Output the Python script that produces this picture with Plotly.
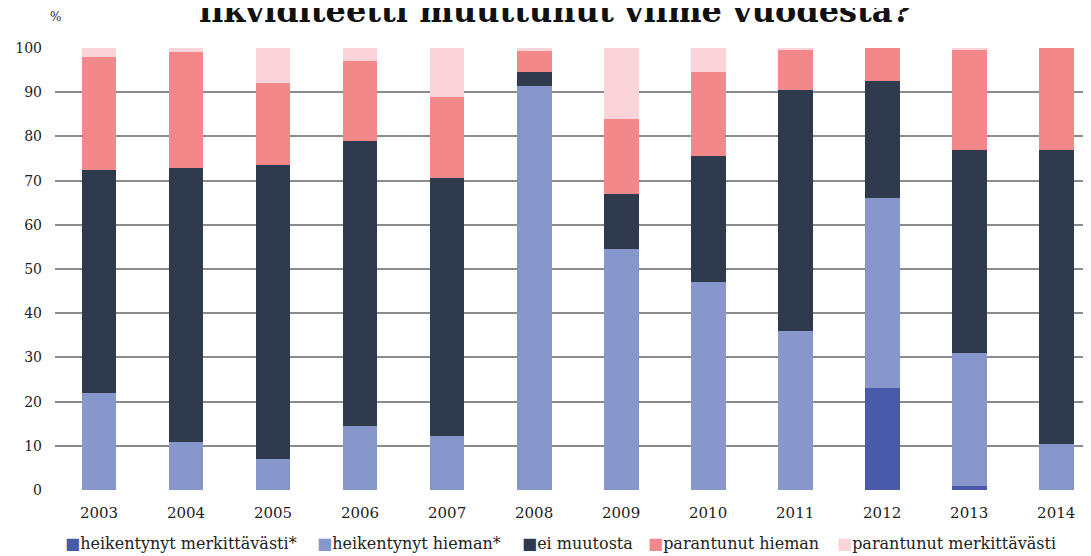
import plotly.graph_objects as go

years = ["2003", "2004", "2005", "2006", "2007", "2008", "2009", "2010", "2011", "2012", "2013", "2014"]
series_names = ["heikentynyt merkittävästi*", "heikentynyt hieman*", "ei muutosta",
                "parantunut hieman", "parantunut merkittävästi"]
heik_merk = [0, 0, 0, 0, 0, 0, 0, 0, 0, 23, 1, 0]
heik_hieman = [22, 10.8, 7, 14.5, 12.3, 91.5, 54.5, 47, 36, 43, 30, 10.5]
ei_muutosta = [50.5, 62, 66.5, 64.5, 58.3, 3, 12.5, 28.5, 54.5, 26.5, 46, 66.5]
par_hieman = [25.5, 26.2, 18.5, 18, 18.4, 4.8, 17, 19, 9, 7.5, 22.5, 23]
par_merk = [2, 1, 8, 3, 11, 0.7, 16, 5.5, 0.5, 0, 0.5, 0]
values = [heik_merk, heik_hieman, ei_muutosta, par_hieman, par_merk]
colors = ["#4a5aab", "#8796cb", "#2f3a4e", "#f2888a", "#fad4d8"]
title_text = "likviditeetti muuttunut viime vuodesta?"
y_ticks = [0, 10, 20, 30, 40, 50, 60, 70, 80, 90, 100]

FONT = "DejaVu Serif"

fig = go.Figure()
for name, vals, col in zip(series_names, values, colors):
    fig.add_trace(go.Bar(x=list(range(len(years))), y=vals, name=name,
                         marker=dict(color=col, line=dict(width=0)), width=0.4))

fig.update_layout(
    barmode="stack",
    width=1083, height=548,
    margin=dict(l=47, r=0, t=40, b=66),
    plot_bgcolor="white", paper_bgcolor="white",
    showlegend=False,
    font=dict(family=FONT, size=14, color="#222222"),
    xaxis=dict(range=[-0.506, 11.40], tickmode="array",
               tickvals=list(range(len(years))), ticktext=years,
               showgrid=False, zeroline=False, showline=False, ticks="",
               ticklabelstandoff=12,
               tickfont=dict(family=FONT, size=15, color="#222222")),
    yaxis=dict(range=[0, 100], tickmode="array", tickvals=y_ticks,
               showgrid=True, gridcolor="#8c8c8c", gridwidth=1.5,
               zeroline=False, showline=False, ticks="",
               ticklabelstandoff=12,
               tickfont=dict(family=FONT, size=14, color="#222222")),
)

fig.add_annotation(text="<b>" + title_text + "</b>", xref="paper", yref="paper",
                   x=0.483, y=1.083, xanchor="center", yanchor="middle",
                   showarrow=False, font=dict(family=FONT, size=32, color="#111111"))
fig.add_annotation(text="%", xref="paper", yref="paper", x=0.0, y=1.07,
                   xanchor="center", yanchor="middle", showarrow=False,
                   font=dict(family=FONT, size=12, color="#222222"))

# legend as text row
leg_x = [63, 315, 520, 646, 835]
for name, col, px in zip(series_names, colors, leg_x):
    fig.add_annotation(text=f"<span style='color:{col}'>■</span>{name}",
                       xref="paper", yref="paper",
                       x=(px - 55) / 1036, y=-(543 - 490) / 442,
                       xanchor="left", yanchor="middle", showarrow=False,
                       font=dict(family=FONT, size=16, color="#222222"))

fig.write_html("out.html")
